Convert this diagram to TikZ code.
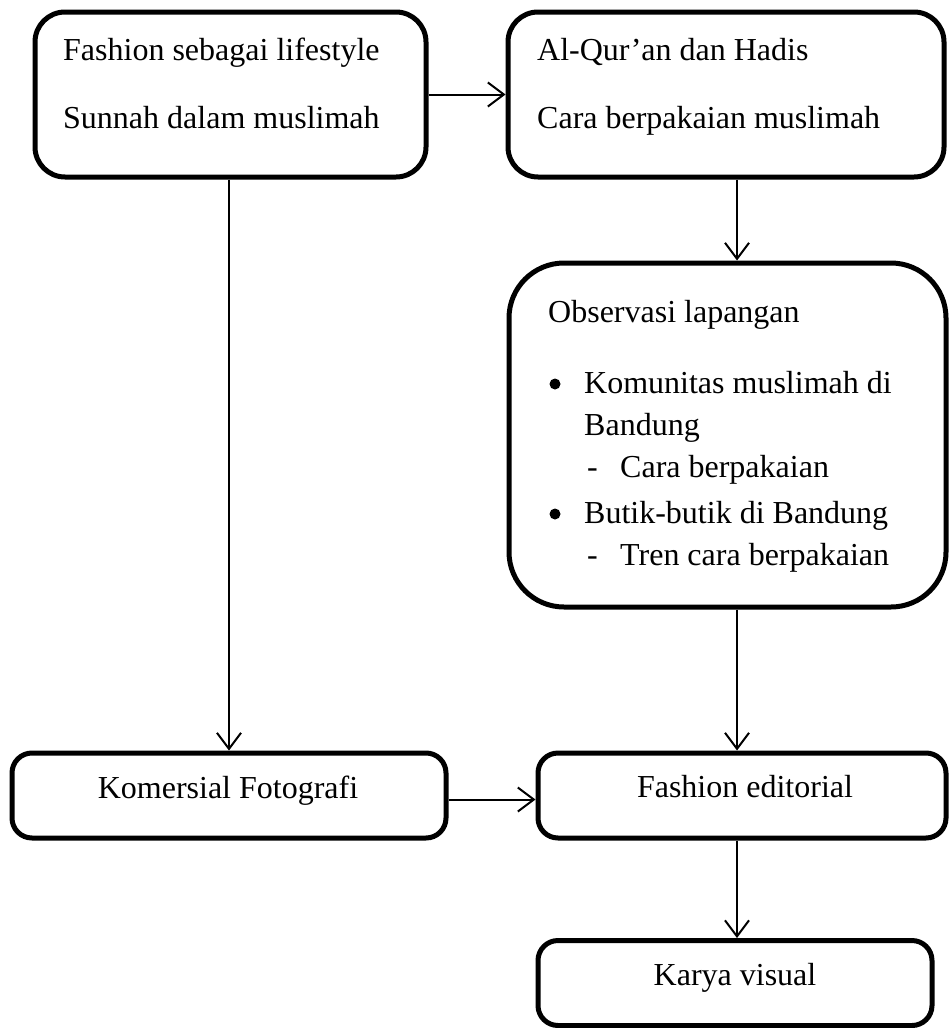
\documentclass[tikz,border=0pt]{standalone}
\usepackage{fontspec}
\setmainfont{Liberation Serif}
\usetikzlibrary{arrows.meta}
\begin{document}
\begin{tikzpicture}[x=1pt,y=-1pt,
  box/.style={draw, line width=5pt, rounded corners=#1, inner sep=0pt},
  box/.default=30pt,
  arr/.style={line width=2pt, -{Straight Barb[length=16pt,width=24pt,line width=2pt]}},
  txt/.style={anchor=base west, inner sep=0pt, font=\fontsize{32}{40}\selectfont},
  dot/.style={circle, fill, inner sep=0pt, minimum size=11pt}]
\useasboundingbox (0,0) rectangle (949,1028);
% boxes
\node[box, minimum width=391pt, minimum height=165pt] (A) at (230.5,94.5) {};
\node[box, minimum width=436pt, minimum height=165pt] (B) at (726,94.5) {};
\node[box=55pt, minimum width=437pt, minimum height=344pt] (C) at (727.5,435) {};
\node[box=20pt, minimum width=434pt, minimum height=85pt] (D) at (229,795.5) {};
\node[box=20pt, minimum width=408pt, minimum height=85pt] (E) at (742,795.5) {};
\node[box=20pt, minimum width=394pt, minimum height=85pt] (F) at (735,983) {};
% texts
\node[txt] (a1) at (63,60) {Fashion sebagai lifestyle};
\node[txt] (a2) at (63,128) {Sunnah dalam muslimah};
\node[txt] (b1) at (537,60) {Al-Qur’an dan Hadis};
\node[txt] (b2) at (537,128) {Cara berpakaian muslimah};
\node[txt] (c0) at (548,322) {Observasi lapangan};
\node[dot] (c1b) at (555,384) {};
\node[txt] (c1) at (584,393) {Komunitas muslimah di};
\node[txt] (c2) at (584,435) {Bandung};
\node[txt] (c3d) at (587,477) {-};
\node[txt] (c3) at (620,477) {Cara berpakaian};
\node[dot] (c4b) at (555,514) {};
\node[txt] (c4) at (584,523) {Butik-butik di Bandung};
\node[txt] (c5d) at (587,565) {-};
\node[txt] (c5) at (620,565) {Tren cara berpakaian};
\node[txt, anchor=base] (dt) at (228,798) {Komersial Fotografi};
\node[txt, anchor=base] (et) at (745,797) {Fashion editorial};
\node[txt, anchor=base] (ft) at (735,985) {Karya visual};
% connectors
\coordinate (col) at (737,0);
\draw[arr] (A.east) -- (B.west);
\draw[arr] (A.south -| D.north) -- (D.north);
\draw[arr] (B.south -| col) -- (C.north -| col);
\draw[arr] (C.south -| col) -- (E.north -| col);
\draw[arr] (E.south -| col) -- (F.north -| col);
\draw[arr] ([yshift=-4pt]D.east) -- ([yshift=-4pt]E.west);
\end{tikzpicture}
\end{document}
